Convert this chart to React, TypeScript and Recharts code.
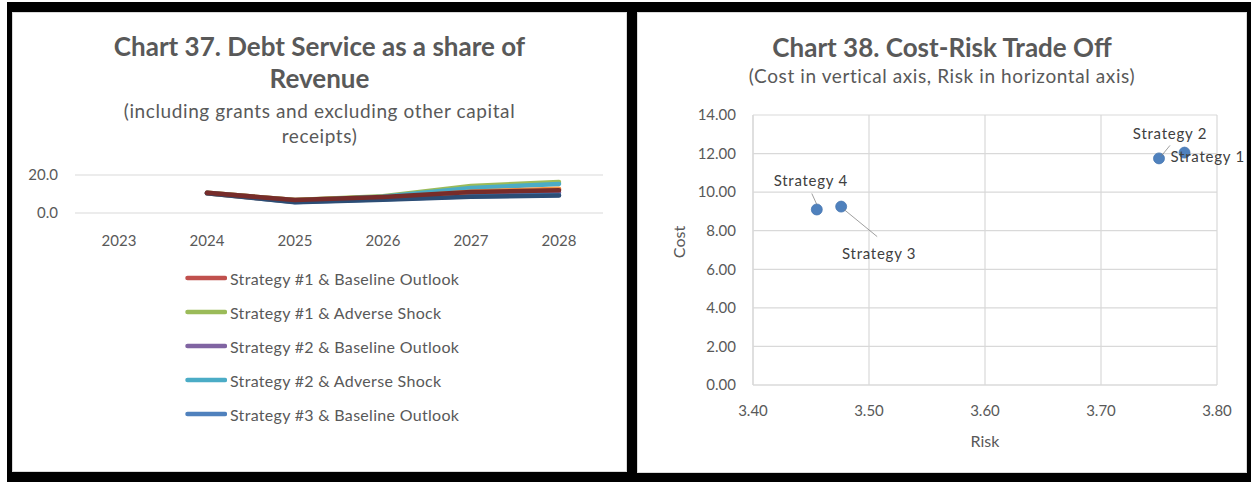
import React from 'react';
import { LineChart, Line, XAxis, YAxis, CartesianGrid, Legend, ScatterChart, Scatter } from 'recharts';

// ---------- Chart 37 data ----------
const years = ['2023', '2024', '2025', '2026', '2027', '2028'];
const s1Baseline = [null, 10.6, 6.8, 8.4, 11.0, 12.3];
const s1Adverse = [null, 10.6, 6.8, 8.8, 14.2, 16.3];
const s2Baseline = [null, 10.5, 6.3, 7.9, 9.8, 10.8];
const s2Adverse = [null, 10.5, 6.3, 8.5, 13.2, 15.3];
const s3Baseline = [null, 10.4, 5.8, 7.3, 8.8, 9.5];
const s3Adverse = [null, 10.4, 5.9, 7.8, 11.2, 12.8];
const s4Baseline = [null, 10.4, 5.7, 7.0, 8.5, 9.2];
const s4Adverse = [null, 10.6, 6.8, 8.4, 11.0, 12.0];
const lineTicks = [0, 20];

const seriesKeys = ['s1b', 's1a', 's2b', 's2a', 's3b', 's3a', 's4b', 's4a'];
const seriesNames = [
  'Strategy #1 & Baseline Outlook',
  'Strategy #1 & Adverse Shock',
  'Strategy #2 & Baseline Outlook',
  'Strategy #2 & Adverse Shock',
  'Strategy #3 & Baseline Outlook',
  'Strategy #3 & Adverse Shock',
  'Strategy #4 & Baseline Outlook',
  'Strategy #4 & Adverse Shock',
];
const seriesValues = [s1Baseline, s1Adverse, s2Baseline, s2Adverse, s3Baseline, s3Adverse, s4Baseline, s4Adverse];
const seriesColors = ['#C0504D', '#9BBB59', '#8064A2', '#4BACC6', '#4F81BD', '#F79646', '#2C4D75', '#772C2A'];
const seriesInLegend = [true, true, true, true, true, false, false, false];

const lineData = years.map((y, i) => {
  const row: any = { year: y };
  seriesKeys.forEach((k, j) => { row[k] = seriesValues[j][i]; });
  return row;
});

// ---------- Chart 38 data ----------
const strategies = ['Strategy 1', 'Strategy 2', 'Strategy 3', 'Strategy 4'];
const riskValues = [3.772, 3.750, 3.476, 3.455];
const costValues = [12.05, 11.75, 9.25, 9.1];
const riskTicks = [3.4, 3.5, 3.6, 3.7, 3.8];
const costTicks = [0, 2, 4, 6, 8, 10, 12, 14];

const scatterData = strategies.map((s, i) => ({ name: s, risk: riskValues[i], cost: costValues[i] }));

// label placement (style only, offsets relative to each point)
const labelPlacement: Record<string, any> = {
  'Strategy 1': { dx: -14, dy: 3, anchor: 'start', line: null },
  'Strategy 2': { dx: 11, dy: -25, anchor: 'middle', line: [2, -2, 11, -13] },
  'Strategy 3': { dx: 38, dy: 46, anchor: 'middle', line: [3, 3, 36, 30] },
  'Strategy 4': { dx: -6, dy: -30, anchor: 'middle', line: [-5, -16, 0, -5] },
};

const FONT = "Lato, 'Open Sans', sans-serif";
const TXT = '#595959';

const PointShape = (props: any) => {
  const { cx, cy, payload } = props;
  const p = labelPlacement[payload.name];
  return (
    <g>
      <circle cx={cx} cy={cy} r={5.5} fill="#4F81BD" stroke="#4575b0" strokeWidth={0.75} />
      {p.line && (
        <line x1={cx + p.line[0]} y1={cy + p.line[1]} x2={cx + p.line[2]} y2={cy + p.line[3]} stroke="#7f7f7f" strokeWidth={0.75} />
      )}
      <text x={cx + p.dx} y={cy + p.dy} textAnchor={p.anchor} dominantBaseline="central" fontFamily={FONT} fontSize={15} letterSpacing={0.75} fill="#404040">
        {payload.name}
      </text>
    </g>
  );
};

const renderLegend = (props: any) => {
  const { payload } = props;
  const items = (payload || [])
    .filter((e: any) => e.type !== 'none' && seriesInLegend[seriesNames.indexOf(e.value)])
    .sort((a: any, b: any) => seriesNames.indexOf(a.value) - seriesNames.indexOf(b.value));
  return (
    <div style={{ fontFamily: FONT }}>
      {items.map((entry: any) => (
        <div key={entry.value} style={{ display: 'flex', alignItems: 'center', height: 34 }}>
          <svg width={42} height={8} style={{ display: 'block' }}>
            <line x1={2.5} y1={4} x2={40} y2={4} stroke={entry.color} strokeWidth={4.5} strokeLinecap="round" />
          </svg>
          <span style={{ marginLeft: 3, fontSize: 16, letterSpacing: 0.3, color: TXT, whiteSpace: 'nowrap' }}>{entry.value}</span>
        </div>
      ))}
    </div>
  );
};

const titleLine = (text: string, center: number, size: number, bold: boolean, lh: number, ls: number) => (
  <div
    style={{
      position: 'absolute', left: 0, width: '100%', top: center - lh / 2, height: lh, lineHeight: lh + 'px',
      textAlign: 'center', fontFamily: FONT, fontSize: size, fontWeight: bold ? 700 : 400, color: TXT, whiteSpace: 'nowrap',
      letterSpacing: ls,
    }}
  >
    {text}
  </div>
);

export default function App() {
  return (
    <div style={{ position: 'absolute', left: 0, top: 0, width: 1251, height: 482, background: '#ffffff', overflow: 'hidden' }}>
      <div style={{ position: 'absolute', left: 7, top: 2, width: 1244, height: 480, background: '#000000' }} />

      {/* Left panel: Chart 37 */}
      <div style={{ position: 'absolute', left: 12, top: 12, width: 613, height: 458, background: '#ffffff', border: '1px solid #d9d9d9' }}>
        {titleLine('Chart 37. Debt Service as a share of', 33, 26, true, 32, 0)}
        {titleLine('Revenue', 65, 26, true, 32, 0)}
        {titleLine('(including grants and excluding other capital', 98, 19, false, 24, 0.6)}
        {titleLine('receipts)', 123, 19, false, 24, 0.6)}
        <div style={{ position: 'absolute', left: 0, top: 0 }}>
          <LineChart width={613} height={458} data={lineData} margin={{ top: 162, right: 23, bottom: 218, left: 12 }}>
            <CartesianGrid vertical={false} stroke="#d9d9d9" strokeWidth={1.2} />
            <XAxis
              dataKey="year"
              height={40}
              axisLine={false}
              tickLine={false}
              tickSize={0}
              tickMargin={22}
              padding={{ left: 44, right: 44 }}
              tick={{ fontFamily: FONT, fontSize: 15, fill: TXT }}
              interval={0}
            />
            <YAxis
              width={50}
              domain={[0, 20]}
              ticks={lineTicks}
              axisLine={false}
              tickLine={false}
              tickSize={0}
              tickMargin={17}
              tickFormatter={(v: number) => v.toFixed(1)}
              tick={{ fontFamily: FONT, fontSize: 15, fill: TXT }}
            />
            <Legend
              layout="vertical"
              align="center"
              verticalAlign="middle"
              content={renderLegend}
              wrapperStyle={{ top: 248, left: 172, width: 'auto', height: 'auto' }}
            />
            {seriesKeys.map((k, j) => (
              <Line
                key={k}
                type="linear"
                dataKey={k}
                name={seriesNames[j]}
                stroke={seriesColors[j]}
                strokeWidth={4.5}
                strokeLinecap="round"
                strokeLinejoin="round"
                dot={false}
                activeDot={false}
                legendType={seriesInLegend[j] ? 'line' : 'none'}
                isAnimationActive={false}
              />
            ))}
          </LineChart>
        </div>
      </div>

      {/* Right panel: Chart 38 */}
      <div style={{ position: 'absolute', left: 637, top: 12, width: 608, height: 459, background: '#ffffff', border: '1px solid #d9d9d9' }}>
        {titleLine('Chart 38. Cost-Risk Trade Off', 34, 26, true, 32, 0)}
        {titleLine('(Cost in vertical axis, Risk in horizontal axis)', 63, 19, false, 24, 0.6)}
        <div style={{ position: 'absolute', left: 0, top: 0 }}>
          <ScatterChart width={608} height={459} margin={{ top: 102, right: 29, bottom: 17, left: 55 }}>
            <CartesianGrid stroke="#d9d9d9" strokeWidth={1.2} />
            <XAxis
              type="number"
              dataKey="risk"
              domain={[3.4, 3.8]}
              ticks={riskTicks}
              height={70}
              axisLine={{ stroke: '#d9d9d9', strokeWidth: 1.2 }}
              tickLine={false}
              tickSize={0}
              tickMargin={20}
              tickFormatter={(v: number) => v.toFixed(2)}
              tick={{ fontFamily: FONT, fontSize: 15, fill: TXT }}
              label={{
                content: (p: any) => {
                  const vb = p.viewBox;
                  return (
                    <text x={vb.x + vb.width / 2} y={vb.y + 55} textAnchor="middle" dominantBaseline="central" fontFamily={FONT} fontSize={16} fill={TXT}>
                      Risk
                    </text>
                  );
                },
              }}
            />
            <YAxis
              type="number"
              dataKey="cost"
              domain={[0, 14]}
              ticks={costTicks}
              width={60}
              axisLine={{ stroke: '#d9d9d9', strokeWidth: 1.2 }}
              tickLine={false}
              tickSize={0}
              tickMargin={17}
              tickFormatter={(v: number) => v.toFixed(2)}
              tick={{ fontFamily: FONT, fontSize: 15, fill: TXT }}
              label={{
                content: (p: any) => {
                  const vb = p.viewBox;
                  const x = vb.x - 15;
                  const y = vb.y + vb.height / 2 - 8;
                  return (
                    <text x={x} y={y} transform={`rotate(-90 ${x} ${y})`} textAnchor="middle" dominantBaseline="central" fontFamily={FONT} fontSize={16} fill={TXT}>
                      Cost
                    </text>
                  );
                },
              }}
            />
            <Scatter data={scatterData} shape={PointShape} isAnimationActive={false} />
          </ScatterChart>
        </div>
      </div>
    </div>
  );
}
